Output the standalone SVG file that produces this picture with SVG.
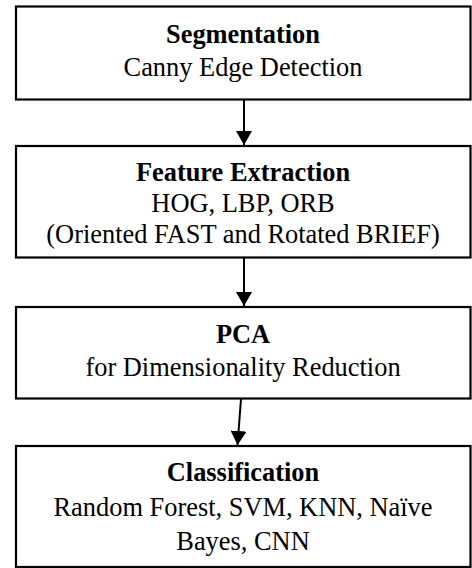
<svg xmlns="http://www.w3.org/2000/svg" width="472" height="568" viewBox="0 0 472 568">
<style>
.box{fill:#fff;stroke:#000;stroke-width:2.2}
text{font-family:'Liberation Serif','Times New Roman',serif;font-size:26.4px;fill:#000;text-anchor:middle}
.b{font-weight:bold}
.c{stroke:#000;stroke-width:2;fill:none}
</style>
<defs>
<marker id="ah" markerUnits="userSpaceOnUse" markerWidth="15" markerHeight="16" refX="14" refY="8" orient="auto">
<path d="M0,0 L14,8 L0,16 z" fill="#000"/>
</marker>
</defs>
<rect width="472" height="568" fill="#fff"/>
<g id="connectors">
<line class="c" x1="244" y1="100" x2="244" y2="145" marker-end="url(#ah)"/>
<line class="c" x1="244" y1="258" x2="244" y2="306" marker-end="url(#ah)"/>
<line class="c" x1="241" y1="399" x2="237.5" y2="445" marker-end="url(#ah)"/>
</g>
<g id="segmentation">
<rect class="box" x="16" y="6.5" width="454.5" height="93"/>
<text class="b" x="243" y="43">Segmentation</text>
<text x="243" y="76">Canny Edge Detection</text>
</g>
<g id="feature-extraction">
<rect class="box" x="16" y="146" width="454.5" height="111.5"/>
<text class="b" x="243" y="181">Feature Extraction</text>
<text x="243" y="212">HOG, LBP, ORB</text>
<text x="243" y="243">(Oriented FAST and Rotated BRIEF)</text>
</g>
<g id="pca">
<rect class="box" x="16" y="307" width="454.5" height="91.5"/>
<text class="b" x="243" y="343">PCA</text>
<text x="243" y="376">for Dimensionality Reduction</text>
</g>
<g id="classification">
<rect class="box" x="16" y="446" width="454.5" height="121"/>
<text class="b" x="243" y="481">Classification</text>
<text x="243" y="516">Random Forest, SVM, KNN, Naïve</text>
<text x="243" y="550">Bayes, CNN</text>
</g>
</svg>
